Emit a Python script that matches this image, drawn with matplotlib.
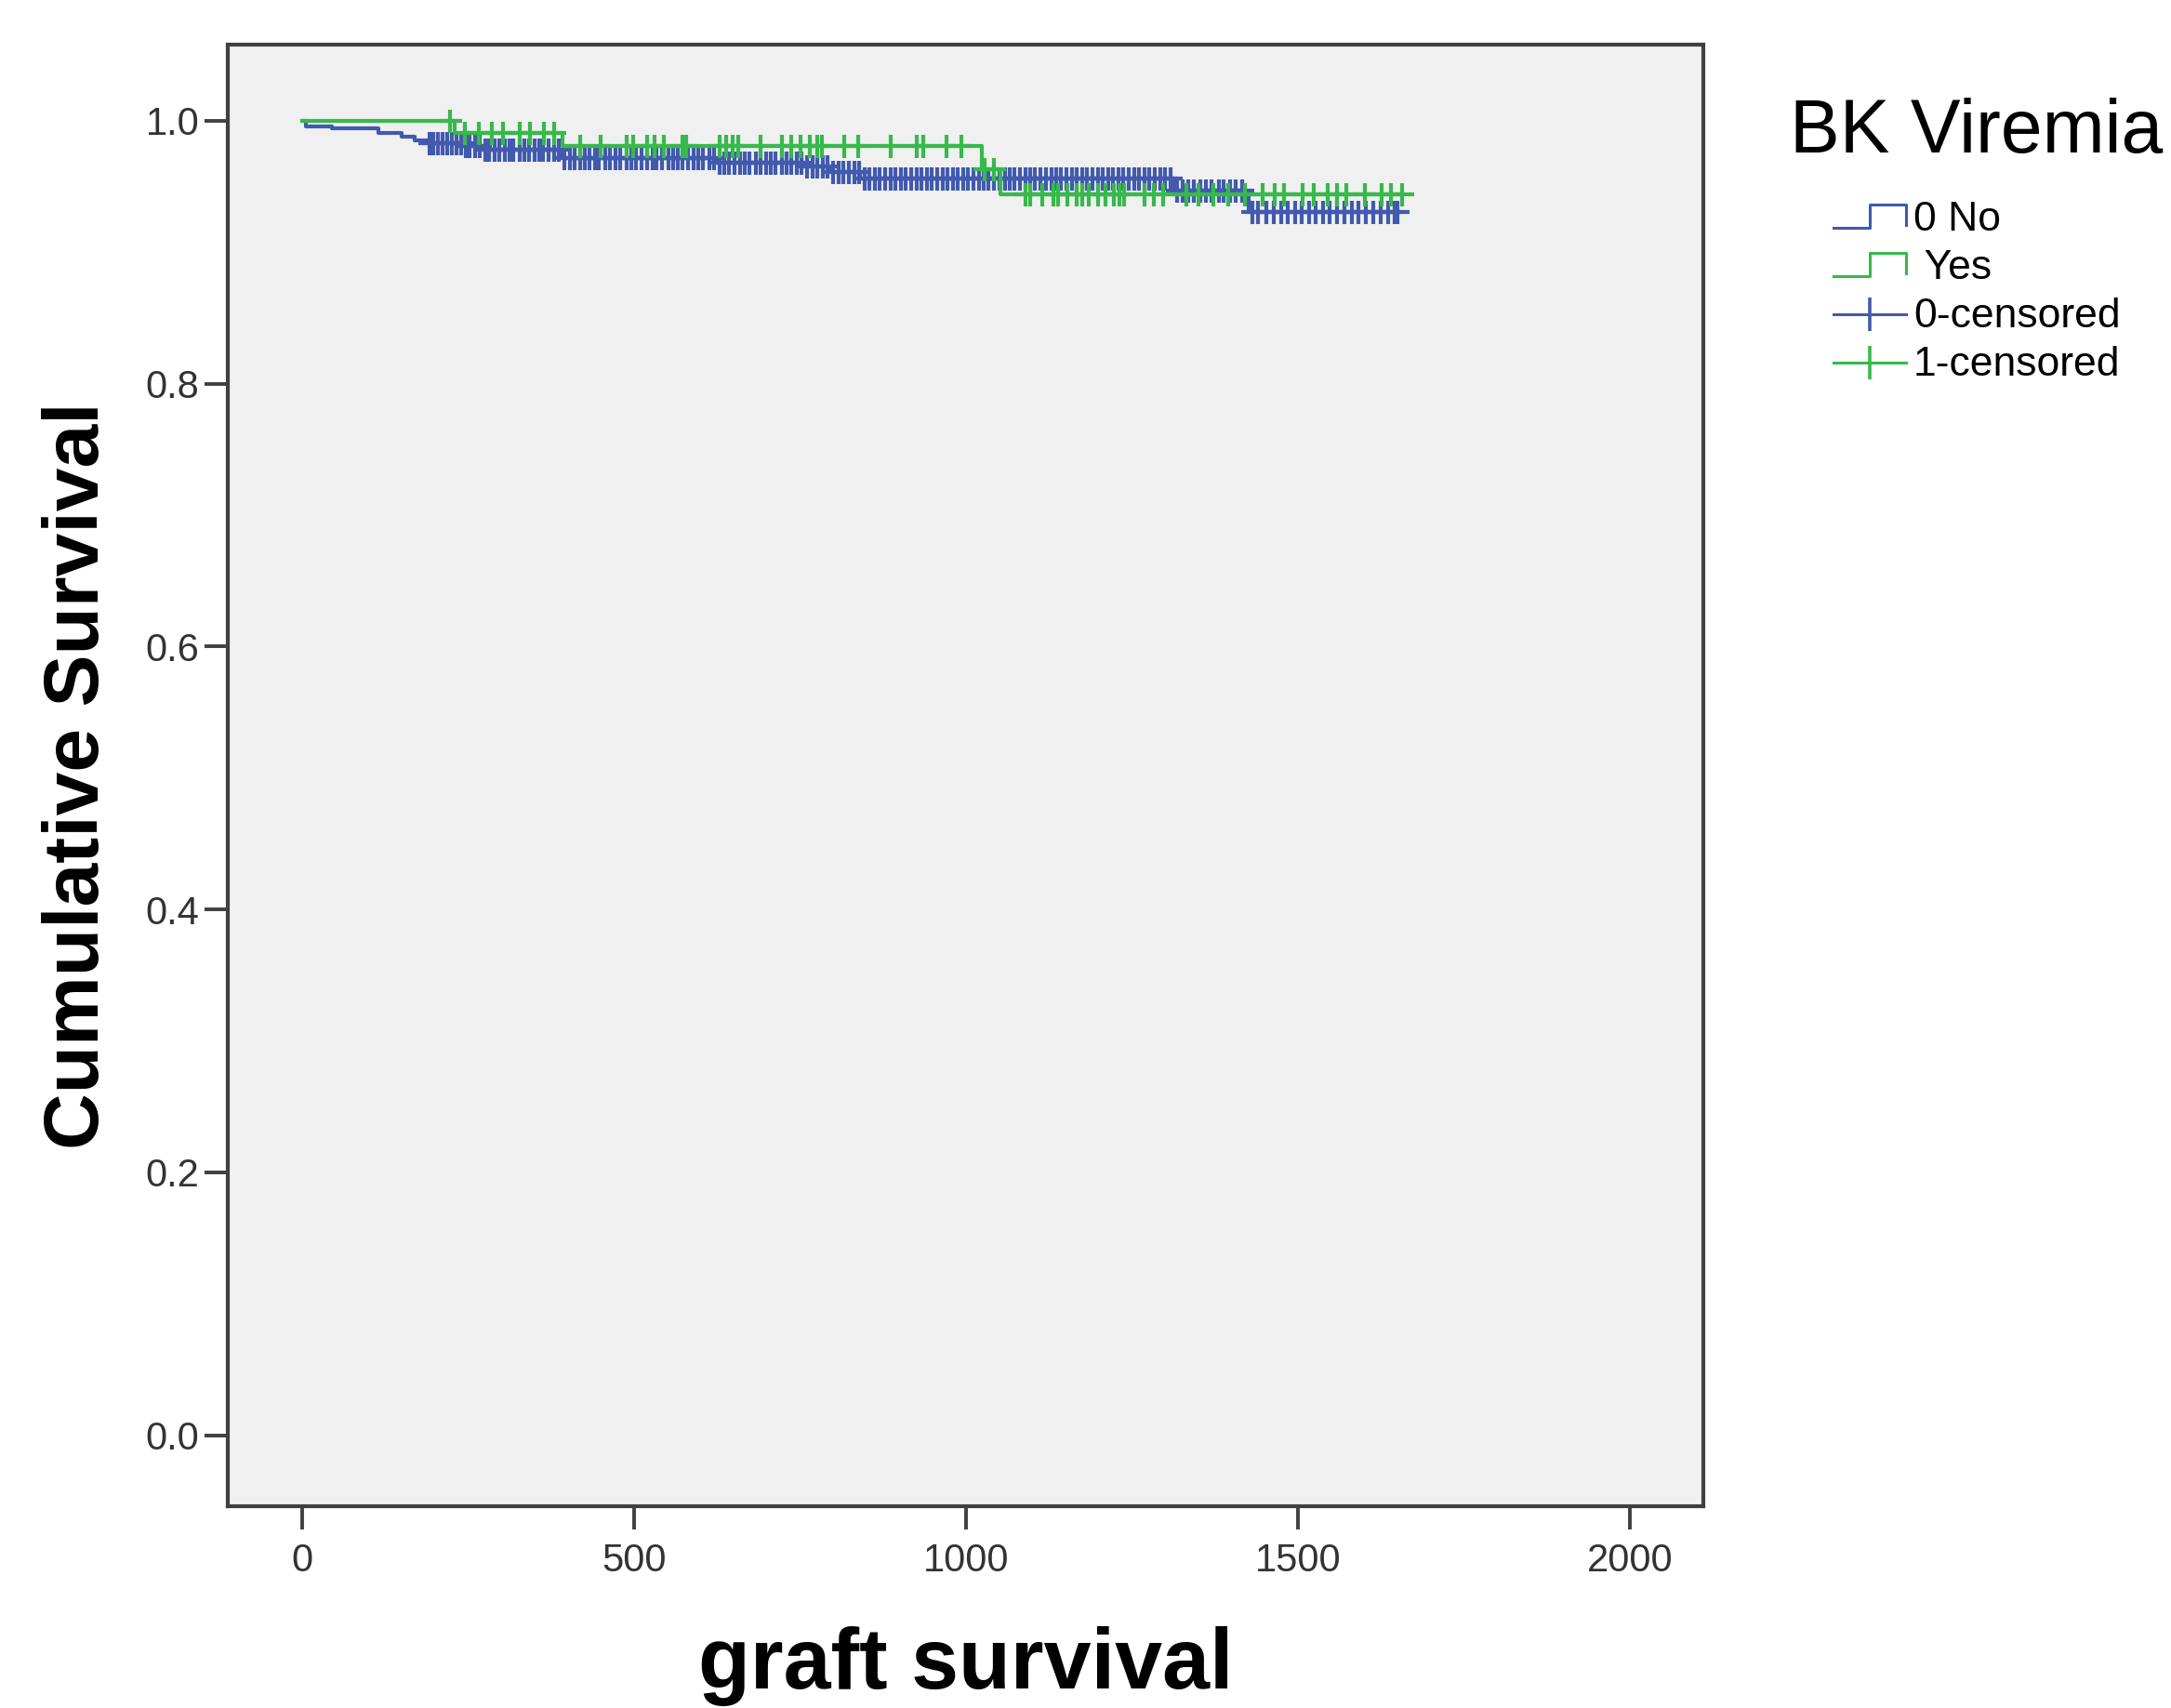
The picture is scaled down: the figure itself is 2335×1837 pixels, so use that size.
import numpy as np
import matplotlib
matplotlib.use('Agg')
import matplotlib.pyplot as plt
from matplotlib.lines import Line2D
from matplotlib.legend_handler import HandlerBase

plt.rcParams['font.family'] = ['Liberation Sans', 'DejaVu Sans']

# Kaplan-Meier steps (days, cumulative survival)
no_times = [0, 5, 45, 115, 150, 170, 190, 240, 270, 390, 625, 755, 797, 840, 1313, 1425]
no_surv = [1.0, 0.996, 0.994, 0.991, 0.988, 0.985, 0.983, 0.981, 0.978, 0.972,
           0.968, 0.9655, 0.961, 0.956, 0.947, 0.931]
no_end = 1650
no_cens = [192, 198, 205, 211, 219, 226, 233, 239, 247, 252, 260, 268, 276, 281, 290,
           297, 305, 312, 318, 327, 334, 341, 350, 357, 363, 371, 379, 386, 395, 403,
           410, 418, 426, 433, 441, 447, 456, 464, 472, 479, 488, 496, 503, 511, 519,
           528, 534, 542, 551, 558, 566, 573, 581, 590, 597, 604, 613, 620, 628, 636,
           643, 651, 659, 667, 674, 683, 690, 698, 706, 713, 722, 729, 737, 745, 752,
           760, 769, 776, 784, 791, 800, 808, 815, 823, 831, 839, 847, 854, 862, 870,
           878, 886, 893, 902, 909, 917, 925, 932, 941, 948, 956, 964, 972, 980, 987,
           995, 1003, 1011, 1019, 1026, 1034, 1042, 1050, 1058, 1065, 1073, 1081, 1089,
           1097, 1104, 1112, 1120, 1128, 1136, 1143, 1151, 1159, 1167, 1175, 1182, 1190,
           1198, 1206, 1214, 1221, 1229, 1237, 1245, 1253, 1260, 1268, 1276, 1284, 1292,
           1300, 1308, 1318, 1326, 1335, 1343, 1352, 1361, 1370, 1380, 1388, 1397, 1406,
           1415, 1431, 1440, 1452, 1463, 1475, 1484, 1496, 1505, 1517, 1526, 1538, 1547,
           1559, 1570, 1581, 1590, 1602, 1613, 1624, 1636, 1645, 1650]

yes_times = [0, 230, 392, 1024, 1052]
yes_surv = [1.0, 0.991, 0.981, 0.963, 0.944]
yes_end = 1656
yes_cens = [222, 245, 266, 285, 303, 327, 343, 364, 380, 418, 450, 488, 499, 520, 530,
            545, 573, 578, 629, 639, 648, 657, 690, 722, 736, 750, 764, 776, 783, 816,
            837, 886, 926, 935, 970, 993, 1028, 1042, 1090, 1096, 1115, 1131, 1138, 1152,
            1166, 1175, 1185, 1199, 1210, 1223, 1231, 1238, 1269, 1282, 1297, 1331, 1350,
            1372, 1395, 1420, 1446, 1464, 1478, 1506, 1524, 1544, 1558, 1572, 1600, 1626,
            1640, 1656]

blue = '#415aaf'
green = '#37b94b'


def km_level(times, surv, t):
    idx = np.searchsorted(times, t, side='right') - 1
    return np.asarray(surv)[idx]


class StepHandler(HandlerBase):
    def create_artists(self, legend, orig_handle, xdescent, ydescent,
                       width, height, fontsize, trans):
        x0 = -xdescent
        y0 = -ydescent
        xs = [x0, x0 + 0.5 * width, x0 + 0.5 * width, x0 + width, x0 + width]
        ys = [y0, y0, y0 + height, y0 + height, y0 + 0.1 * height]
        ln = Line2D(xs, ys, color=orig_handle.get_color(), lw=2.2, transform=trans)
        return [ln]


fig = plt.figure(figsize=(23.35, 18.37), dpi=100)
ax = fig.add_axes([245 / 2335, 1 - 1620 / 1837, (1832 - 245) / 2335, (1620 - 48) / 1837])
ax.set_facecolor('#f0f0f0')

for times, surv, end, cens, col, z in [(no_times, no_surv, no_end, no_cens, blue, 2),
                                        (yes_times, yes_surv, yes_end, yes_cens, green, 3)]:
    ax.step(list(times) + [end], list(surv) + [surv[-1]], where='post',
            color=col, lw=3.0, zorder=z)
    ax.plot(cens, km_level(times, surv, cens), ls='none', marker='+',
            ms=18, mew=3.0, color=col, zorder=z)

ax.set_xlim(-112, 2110)
ax.set_ylim(-0.054, 1.058)
ax.set_xticks([0, 500, 1000, 1500, 2000])
ax.set_yticks([0.0, 0.2, 0.4, 0.6, 0.8, 1.0])
ax.set_yticklabels(['0.0', '0.2', '0.4', '0.6', '0.8', '1.0'])
ax.tick_params(length=18, width=2.8, color='#404040', labelsize=30,
               labelcolor='#333333', pad=4)
ax.tick_params(axis='x', pad=10)
for sp in ax.spines.values():
    sp.set_color('#404040')
    sp.set_linewidth(3.0)

ax.set_xlabel('graft survival', fontsize=66, fontweight='bold', labelpad=36)
ax.set_ylabel('Cumulative Survival', fontsize=60.5, fontweight='bold', labelpad=24)

fig.text(1925 / 2335, 1 - 143 / 1837, 'BK Viremia', fontsize=58, ha='left', va='center')

h_no = Line2D([], [], color=blue)
h_yes = Line2D([], [], color=green)
h_c0 = Line2D([], [], color=blue, lw=2.2, marker='|', ms=26, mew=2.6)
h_c1 = Line2D([], [], color=green, lw=2.2, marker='|', ms=26, mew=2.6)
fig.legend([h_no, h_yes, h_c0, h_c1], ['0 No', ' Yes', '0-censored', '1-censored'],
           loc='upper left', bbox_to_anchor=(1972 / 2335, 1 - 216 / 1837),
           frameon=False, fontsize=32, handlelength=1.75, handleheight=0.5,
           handletextpad=0.18, labelspacing=0.25, borderpad=0, borderaxespad=0,
           numpoints=1, handler_map={h_no: StepHandler(), h_yes: StepHandler()})

fig.savefig('out.png', dpi=100)
